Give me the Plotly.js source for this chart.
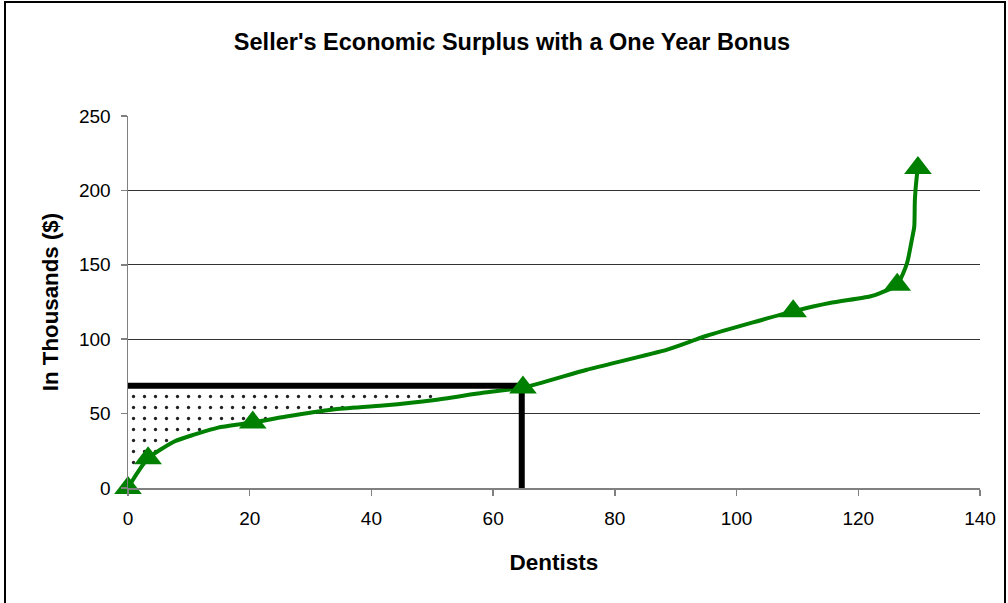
<!DOCTYPE html>
<html>
<head>
<meta charset="utf-8">
<script src="https://cdn.plot.ly/plotly-3.0.1.min.js"></script>
<style>
  html, body { margin: 0; padding: 0; background: #ffffff; }
  #wrap { position: relative; width: 1008px; height: 603px; overflow: hidden; }
  #chart { position: absolute; left: 0; top: 0; width: 1008px; height: 603px; }
  #frame { position: absolute; left: 4px; top: 1px; width: 998px; height: 640px; border: 2px solid #000; pointer-events: none; }
</style>
</head>
<body>
<div id="wrap">
  <div id="chart"></div>
  <div id="frame"></div>
</div>
<script>
// Supply curve (dentists vs. required pay, in thousands $)
const curveX = [0, 1.5, 3.3, 7.7, 11, 14.8, 18.7, 20.5, 26, 33.7, 41.9, 50.1, 58.3, 64.9, 75.4, 88.6, 92.8, 95.1, 102.7, 109.3, 115.3, 121.9, 123.6, 126.4, 128, 128.8, 129.2, 129.3, 129.6, 129.8];
const curveY = [0, 10, 20, 31.4, 36, 40.6, 43, 44, 48, 52.7, 55.4, 59, 64, 67.5, 79.5, 93, 99, 102.3, 111.3, 118.7, 124.3, 128.7, 131, 136.6, 151, 166.8, 175.7, 193.6, 209, 215];

// Marked points on the curve
const markerX = [0, 3.3, 20.5, 64.9, 109.3, 126.4, 129.8];
const markerY = [0, 20, 44, 67.5, 118.7, 136.6, 215];

// Equilibrium quantity / price (bonus level)
const eqQuantity = 64.7;
const eqPrice = 68.8;

// Seller's surplus region (dotted)
const surplusX = [0, 51, 51, 41.9, 33.7, 26, 20.5, 18.7, 14.8, 11, 7.7, 3.3, 1.5, 0];
const surplusY = [68, 68, 59.8, 56.2, 53.5, 48.8, 44.8, 43.8, 41.4, 36.8, 32.2, 20.8, 10.8, 10.8];

// Axis ticks
const xTicks = [0, 20, 40, 60, 80, 100, 120, 140];
const yTicks = [0, 50, 100, 150, 200, 250];
const yGrid = [50, 100, 150, 200];

const titleText = "Seller's Economic Surplus with a One Year Bonus";
const xTitle = "Dentists";
const yTitle = "In Thousands ($)";

const green = '#008000';
const font = 'Liberation Sans, Arial, sans-serif';

const traces = [
  {
    x: surplusX, y: surplusY, type: 'scatter', mode: 'lines',
    fill: 'toself', fillcolor: 'rgba(255,255,255,1)',
    fillpattern: { shape: '.', size: 11, solidity: 0.07, fgcolor: '#222222', bgcolor: '#ffffff' },
    line: { width: 0 }, hoverinfo: 'skip', showlegend: false
  },
  {
    x: curveX, y: curveY, type: 'scatter', mode: 'lines',
    line: { color: green, width: 4, shape: 'spline', smoothing: 0.6 },
    showlegend: false
  },
  {
    x: [0, eqQuantity, eqQuantity], y: [eqPrice, eqPrice, 0], type: 'scatter', mode: 'lines',
    line: { color: '#000000', width: 6 }, showlegend: false
  },
  {
    x: markerX, y: markerY, type: 'scatter', mode: 'markers', cliponaxis: false,
    marker: { symbol: 'triangle-up', size: 24, color: green, line: { width: 0 } },
    showlegend: false
  },
  {
    x: [0], y: [0], yaxis: 'y2', type: 'scatter', mode: 'markers',
    marker: { opacity: 0 }, hoverinfo: 'skip', showlegend: false
  }
];

const layout = {
  width: 1008, height: 603,
  paper_bgcolor: '#ffffff', plot_bgcolor: '#ffffff',
  margin: { l: 128, r: 28, t: 116, b: 115, pad: 0 },
  showlegend: false,
  font: { family: font, color: '#000000', size: 19 },
  title: {
    text: '<b>' + titleText + '</b>',
    font: { family: font, size: 23.5, color: '#000' },
    x: 512 / 1008, xanchor: 'center', y: 1 - 42 / 603, yanchor: 'middle', xref: 'container', yref: 'container'
  },
  xaxis: {
    range: [0, 140], tickvals: xTicks, ticktext: xTicks.map(String),
    showgrid: false, zeroline: false,
    showline: true, linecolor: '#808080', linewidth: 1.5,
    ticks: 'outside', ticklen: 6, tickcolor: '#808080', tickwidth: 1.5,
    tickfont: { family: font, size: 19, color: '#000' },
    ticklabelstandoff: 7,
    title: { text: '<b>' + xTitle + '</b>', font: { family: font, size: 22.5, color: '#000' }, standoff: 26 },
    automargin: false, fixedrange: true
  },
  yaxis: {
    range: [0, 250], tickvals: yTicks, ticktext: yTicks.map(String),
    showgrid: false, zeroline: false,
    showline: true, linecolor: '#808080', linewidth: 1.5,
    ticks: 'outside', ticklen: 6, tickcolor: '#808080', tickwidth: 1.5,
    tickfont: { family: font, size: 19, color: '#000' },
    ticklabelstandoff: 6,
    title: { text: '<b>' + yTitle + '</b>', font: { family: font, size: 22.3, color: '#000' }, standoff: 14 },
    automargin: false, fixedrange: true
  },
  yaxis2: {
    overlaying: 'y', range: [0, 250], tickvals: yGrid,
    showgrid: true, gridcolor: '#333333', gridwidth: 1,
    showticklabels: false, ticks: '', showline: false, zeroline: false, fixedrange: true
  }
};

Plotly.newPlot('chart', traces, layout, { staticPlot: true, displayModeBar: false });
</script>
</body>
</html>
